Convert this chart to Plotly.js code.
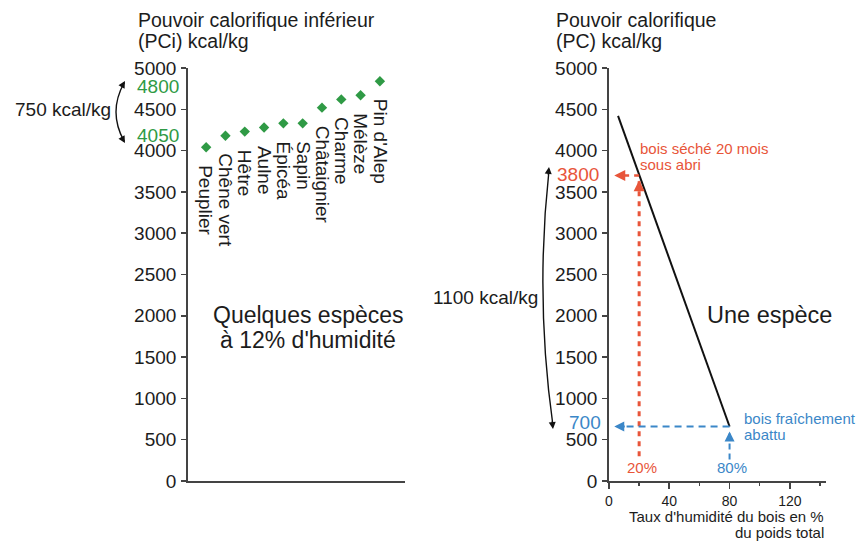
<!DOCTYPE html>
<html><head><meta charset="utf-8">
<script src="https://cdn.plot.ly/plotly-3.0.1.min.js"></script>
<style>html,body{margin:0;padding:0;background:#fff}#c{width:861px;height:541px}</style>
</head><body><div id="c"></div>
<script>
// ---- data ----
const species = ['Peuplier','Chêne vert','Hêtre','Aulne','Épicéa','Sapin','Châtaignier','Charme','Mélèze',"Pin d'Alep"];
const pci = [4040, 4180, 4230, 4280, 4330, 4330, 4520, 4620, 4670, 4840];
const yTicks = [0,500,1000,1500,2000,2500,3000,3500,4000,4500,5000];
const xTicks2 = [0,40,80,120];
const humidite = [6, 80];          // % humidity
const pc = [4420, 660];            // kcal/kg
const markX = [20, 80];            // dried / fresh wood humidity
const markY = [3700, 660];         // level of the horizontal arrows
const markLabels = ['3800', '700'];
const pctLabels = ['20%', '80%'];
const leftRangeLabels = ['4800', '4050'];

const W = 861, H = 541;
const PX = v => v / W, PY = v => 1 - v / H;
const FONT = 'Liberation Sans, Arial, sans-serif';
const RED = '#e8553a', BLUE = '#3b87c8', GREEN = '#2f9a45', INK = '#1c1c1c', AX = '#444';

const traces = [
  {x: species, y: pci, xaxis: 'x', yaxis: 'y', mode: 'markers', type: 'scatter',
   marker: {symbol: 'diamond', size: 8, color: GREEN}, hoverinfo: 'skip'},
  {x: humidite, y: pc, xaxis: 'x2', yaxis: 'y2', mode: 'lines', type: 'scatter',
   line: {color: '#111', width: 2}, hoverinfo: 'skip'},
  {x: [markX[0], markX[0]], y: [300, markY[0] - 60], xaxis: 'x2', yaxis: 'y2', mode: 'lines',
   line: {color: RED, width: 3, dash: '5px,5px'}, hoverinfo: 'skip'},
  {x: [markX[0], 6], y: [markY[0], markY[0]], xaxis: 'x2', yaxis: 'y2', mode: 'lines',
   line: {color: RED, width: 2.5, dash: '5px,5px'}, hoverinfo: 'skip'},
  {x: [markX[1], 6], y: [markY[1], markY[1]], xaxis: 'x2', yaxis: 'y2', mode: 'lines',
   line: {color: BLUE, width: 2, dash: '7px,5px'}, hoverinfo: 'skip'},
  {x: [markX[1], markX[1]], y: [260, markY[1] - 60], xaxis: 'x2', yaxis: 'y2', mode: 'lines',
   line: {color: BLUE, width: 2, dash: '6px,4px'}, hoverinfo: 'skip'}
];

const ann = [];
// species labels, rotated, below each point
species.forEach((s, i) => ann.push({
  x: s, y: pci[i], xref: 'x', yref: 'y', text: s, showarrow: false, textangle: 90,
  xanchor: 'center', yanchor: 'top', yshift: -16, font: {family: FONT, size: 19, color: INK}
}));
function txt(x, y, text, size, color, xanchor, extra) {
  ann.push(Object.assign({x: PX(x), y: PY(y), xref: 'paper', yref: 'paper', text: text, showarrow: false,
    xanchor: xanchor || 'left', yanchor: 'middle', font: {family: FONT, size: size, color: color || INK}}, extra || {}));
}
// titles
txt(136, 20, 'Pouvoir calorifique inférieur', 19.5);
txt(136, 41, '(PCi) kcal/kg', 19.5);
txt(554, 20, 'Pouvoir calorifique', 19.5);
txt(554, 41, '(PC) kcal/kg', 19.5);
// left annotations
txt(181, 86, leftRangeLabels[0], 19, GREEN, 'right');
txt(181, 135, leftRangeLabels[1], 19, GREEN, 'right');
txt(63, 109, '750 kcal/kg', 19, INK, 'center');
txt(308, 315, 'Quelques espèces', 23, INK, 'center');
txt(308, 340, 'à 12% d\'humidité', 23, INK, 'center');
// right annotations
ann.push({x: PX(601), y: markY[0], xref: 'paper', yref: 'y2', text: markLabels[0], showarrow: false,
  xanchor: 'right', yanchor: 'middle', yshift: 1, font: {family: FONT, size: 19, color: RED}});
ann.push({x: PX(603), y: markY[1], xref: 'paper', yref: 'y2', text: markLabels[1], showarrow: false,
  xanchor: 'right', yanchor: 'middle', yshift: 4, font: {family: FONT, size: 19, color: BLUE}});
txt(485, 297, '1100 kcal/kg', 19, INK, 'center');
txt(769, 315, 'Une espèce', 23.5, INK, 'center');
txt(638, 148, 'bois séché 20 mois', 15, RED);
txt(638, 164, 'sous abri', 15, RED);
txt(742, 418, 'bois fraîchement', 15, BLUE);
txt(742, 434, 'abattu', 15, BLUE);
ann.push({x: markX[0], y: 0, xref: 'x2', yref: 'y2', text: pctLabels[0], showarrow: false, yshift: 14,
  xanchor: 'center', yanchor: 'middle', xshift: 3, font: {family: FONT, size: 15, color: RED}});
ann.push({x: markX[1], y: 0, xref: 'x2', yref: 'y2', text: pctLabels[1], showarrow: false, yshift: 14,
  xanchor: 'center', yanchor: 'middle', xshift: 2, font: {family: FONT, size: 15, color: BLUE}});
txt(826, 516, 'Taux d\'humidité du bois en %', 15, INK, 'right');
txt(826, 532, 'du poids total', 15, INK, 'right');
// arrowheads
function head(x, y, xref, yref, ax, ay, color, w) {
  ann.push({x: x, y: y, xref: xref, yref: yref, ax: ax, ay: ay, showarrow: true, text: '',
    arrowhead: 2, arrowsize: 1, arrowwidth: w || 2, arrowcolor: color, standoff: 0});
}
head(3.5, markY[0], 'x2', 'y2', 12, 0, RED, 2.2);
head(markX[0], markY[0] - 60, 'x2', 'y2', 0, 10, RED, 2.2);
head(3.5, markY[1], 'x2', 'y2', 12, 0, BLUE, 2);
head(markX[1], markY[1] - 60, 'x2', 'y2', 0, 10, BLUE, 2);
head(PX(125), PY(81), 'paper', 'paper', -4, 7, '#111', 1.4);
head(PX(125), PY(143), 'paper', 'paper', -4, -7, '#111', 1.4);
head(PX(549), PY(167), 'paper', 'paper', -1, 9, '#111', 1.4);
head(PX(553), PY(429), 'paper', 'paper', -1, -9, '#111', 1.4);

const shapes = [
  {type: 'path', xref: 'paper', yref: 'paper', line: {color: '#111', width: 1.4},
   path: `M ${PX(124)},${PY(83)} Q ${PX(108)},${PY(112)} ${PX(124)},${PY(141)}`},
  {type: 'path', xref: 'paper', yref: 'paper', line: {color: '#111', width: 1.4},
   path: `M ${PX(549)},${PY(170)} Q ${PX(535)},${PY(298)} ${PX(553)},${PY(426)}`}
];

const yDom = [PY(481), PY(68)];
const yax = (anchor) => ({domain: yDom, range: [0, 5000], tickvals: yTicks, ticks: 'outside', ticklen: 5,
  tickwidth: 1.5, tickcolor: AX, showline: true, linecolor: AX, linewidth: 1.8, showgrid: false, zeroline: false,
  anchor: anchor, tickfont: {family: FONT, size: 19, color: INK}, ticklabelstandoff: 1});

const layout = {
  width: W, height: H, margin: {l: 0, r: 0, t: 0, b: 0}, showlegend: false,
  paper_bgcolor: '#fff', plot_bgcolor: 'rgba(0,0,0,0)',
  xaxis: {domain: [PX(188), PX(405)], type: 'category', categoryarray: species, range: [-0.94, 10.3],
    showticklabels: false, ticks: '', showline: true, linecolor: AX, linewidth: 1.8, showgrid: false,
    zeroline: false, anchor: 'y'},
  yaxis: yax('x'),
  xaxis2: {domain: [PX(609), PX(826)], range: [0, 144], tickvals: xTicks2, ticks: 'outside', ticklen: 6,
    tickwidth: 1.6, tickcolor: AX, showline: true, linecolor: AX, linewidth: 1.8, showgrid: false, zeroline: false,
    anchor: 'y2', tickfont: {family: FONT, size: 14, color: INK},
    minor: {tickvals: [20, 60, 100, 140], ticks: 'outside', ticklen: 3, tickwidth: 1.4, tickcolor: AX}},
  xaxis3: {overlaying: 'x2', anchor: 'y2', range: [0, 144], tickvals: xTicks2, ticks: 'inside', ticklen: 4,
    tickwidth: 1.6, tickcolor: AX, showticklabels: false, showline: false, showgrid: false, zeroline: false},
  yaxis2: yax('x2'),
  annotations: ann, shapes: shapes
};
Plotly.newPlot('c', traces, layout, {displayModeBar: false, staticPlot: true});
</script></body></html>
